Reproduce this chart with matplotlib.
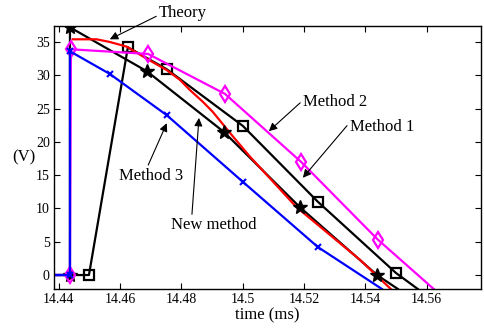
import matplotlib.pyplot as plt

plt.rcParams['font.family'] = ['Liberation Serif', 'DejaVu Serif']

x_left = 14.4384

# Theory (red)
theory_t = [14.4445, 14.4523, 14.4566, 14.4621, 14.4686, 14.4751, 14.4795, 14.4827,
            14.4870, 14.4902, 14.4968, 14.5023, 14.5175, 14.5382, 14.5483]
theory_v = [35.4, 35.4, 35.0, 34.3, 32.5, 30.8, 29.3, 27.8,
            26.0, 24.5, 20.8, 17.8, 10.2, 2.3, -2.1]

# New method (black, stars)
new_t = [x_left, 14.4436, 14.4436, 14.4687, 14.4938, 14.5186, 14.5438, 14.5506]
new_v = [0, 0, 37.2, 30.6, 21.5, 10.2, 0.0, -2.1]

# Method 1 (black, squares)
m1_t = [x_left, 14.4498, 14.4625, 14.4752, 14.5000, 14.5245, 14.5500, 14.5571]
m1_v = [0, 0, 34.2, 30.9, 22.4, 11.0, 0.3, -2.1]

# Method 2 (magenta, diamonds)
m2_t = [x_left, 14.4436, 14.4439, 14.4691, 14.4942, 14.5190, 14.5441, 14.5623]
m2_v = [0, 0, 33.9, 33.2, 27.2, 17.0, 5.3, -2.1]

# Method 3 (blue, x)
m3_t = [x_left, 14.4436, 14.4436, 14.4566, 14.4752, 14.5000, 14.5245, 14.5454]
m3_v = [0, 0, 33.6, 30.2, 24.0, 14.0, 4.2, -2.1]

xticks = [14.44, 14.46, 14.48, 14.5, 14.52, 14.54, 14.56]
xtick_labels = ['14.44', '14.46', '14.48', '14.5', '14.52', '14.54', '14.56']
yticks = [0, 5, 10, 15, 20, 25, 30, 35]

fig = plt.figure(figsize=(4.84, 3.31), dpi=100)
ax = fig.add_axes([0.1116, 0.1269, 0.882, 0.7946])

lw = 1.6
ax.plot(m1_t, m1_v, color='k', lw=lw, marker='s', markersize=7.5, mfc='none',
        mew=1.6, markevery=[1, 2, 3, 4, 5, 6])
ax.plot(new_t, new_v, color='k', lw=lw)
ax.plot(theory_t, theory_v, color='red', lw=lw)
ax.plot(new_t, new_v, color='k', lw=0, marker='*', markersize=10,
        markevery=[1, 2, 3, 4, 5, 6])
ax.plot(m2_t, m2_v, color='magenta', lw=lw, marker='d', markersize=8, mfc='none',
        mew=1.6, markevery=[1, 2, 3, 4, 5, 6])
ax.plot(m3_t, m3_v, color='blue', lw=lw, marker='x', markersize=5, mew=1.5,
        markevery=[1, 2, 3, 4, 5, 6])

ax.set_xlim(x_left, 14.5777)
ax.set_ylim(-2.1, 37.4)
ax.set_xticks(xticks)
ax.set_xticklabels(xtick_labels)
ax.set_yticks(yticks)
ax.tick_params(direction='in', top=True, right=True, length=4, width=0.8,
               labelsize=10, pad=3)
for s in ax.spines.values():
    s.set_linewidth(1.0)

ax.set_xlabel('time (ms)', fontsize=12, labelpad=1)
ax.set_ylabel('(V)', fontsize=12, rotation=0, labelpad=9, va='center')

arrow = dict(arrowstyle='-|>', color='k', lw=0.8, mutation_scale=12,
             shrinkA=0, shrinkB=0)


def note(text, tip, pos, rel):
    a = dict(arrow)
    a['relpos'] = rel
    ax.annotate(text, xy=tip, xytext=pos, fontsize=12, ha='center', va='center',
                arrowprops=a, annotation_clip=False)


note('Theory', (14.4566, 35.4), (14.4805, 39.3), (0.0, 0.4))
note('Method 2', (14.5085, 21.6), (14.5301, 26.0), (0.0, 0.6))
note('Method 1', (14.5196, 14.6), (14.5454, 22.2), (0.0, 0.8))
note('Method 3', (14.4752, 22.8), (14.4700, 14.9), (0.44, 1.0))
note('New method', (14.4857, 23.6), (14.4906, 7.5), (0.24, 1.0))

fig.savefig('out.png', dpi=100)
